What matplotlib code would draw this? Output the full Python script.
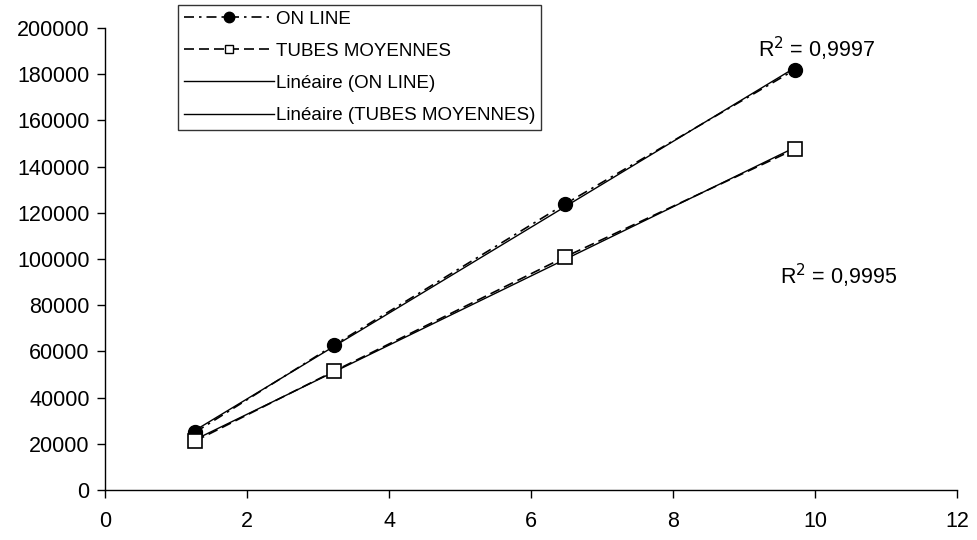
import numpy as np
import matplotlib
matplotlib.use("Agg")
import matplotlib.pyplot as plt
from matplotlib.lines import Line2D

plt.rcParams['font.family'] = ['Liberation Sans', 'DejaVu Sans']

x_vals = [1.27, 3.23, 6.48, 9.72]
online = [25000, 62800, 123800, 182000]
tubes = [21200, 51500, 100900, 147600]
x_ticks = [0, 2, 4, 6, 8, 10, 12]
y_ticks = [0, 20000, 40000, 60000, 80000, 100000, 120000, 140000, 160000, 180000, 200000]
r2_labels = ["R$^2$ = 0,9997", "R$^2$ = 0,9995"]
legend_labels = ["ON LINE", "TUBES MOYENNES", "Linéaire (ON LINE)", "Linéaire (TUBES MOYENNES)"]

fig = plt.figure(figsize=(9.77, 5.40), dpi=100)
ax = fig.add_axes([105/977, 50/540, (957-105)/977, (490-28)/540])

dashdot = (0, (6, 3, 1.5, 3))
dashed = (0, (6, 3))

x = np.array(x_vals)
l1, = ax.plot(x, online, color='black', lw=1.2, ls=dashdot,
              marker='o', ms=10, mfc='black', mec='black', zorder=3)
l2, = ax.plot(x, tubes, color='black', lw=1.2, ls=dashed,
              marker='s', ms=10, mfc='white', mec='black', mew=1.2, zorder=3)

p1 = np.polyfit(x, online, 1)
p2 = np.polyfit(x, tubes, 1)
xs = np.array([x.min(), x.max()])
l3, = ax.plot(xs, np.polyval(p1, xs), color='black', lw=1.0, zorder=2)
l4, = ax.plot(xs, np.polyval(p2, xs), color='black', lw=1.0, zorder=2)

ax.text(10.02, 185000, r2_labels[0], fontsize=15.5, ha='center', va='bottom')
ax.text(10.33, 86500, r2_labels[1], fontsize=15.5, ha='center', va='bottom')

ax.set_xlim(0, 12)
ax.set_ylim(0, 200000)
ax.set_xticks(x_ticks)
ax.set_yticks(y_ticks)
ax.set_xticklabels([str(t) for t in x_ticks])
ax.set_yticklabels([str(t) for t in y_ticks])
ax.tick_params(axis='both', direction='out', length=6, width=1, labelsize=15.5, pad=5)
ax.tick_params(axis='x', pad=9)
for s in ['top', 'right']:
    ax.spines[s].set_visible(False)
for s in ['left', 'bottom']:
    ax.spines[s].set_linewidth(1)
    ax.spines[s].set_color('black')

h1 = Line2D([], [], color='black', lw=1.2, ls=dashdot, marker='o', ms=7.5, mfc='black', mec='black')
h2 = Line2D([], [], color='black', lw=1.2, ls=dashed, marker='s', ms=5.5, mfc='white', mec='black', mew=1.0)
h3 = Line2D([], [], color='black', lw=1.0)
h4 = Line2D([], [], color='black', lw=1.0)
leg = fig.legend([h1, h2, h3, h4], legend_labels, loc='upper left',
                 bbox_to_anchor=(178/977, 1 - 5/540), fontsize=13.5,
                 frameon=True, fancybox=False, edgecolor='black',
                 handlelength=4.8, handletextpad=0.1, borderpad=0.3,
                 labelspacing=0.8, borderaxespad=0)
leg.get_frame().set_linewidth(1)

fig.savefig('out.png', dpi=100, facecolor='white')
